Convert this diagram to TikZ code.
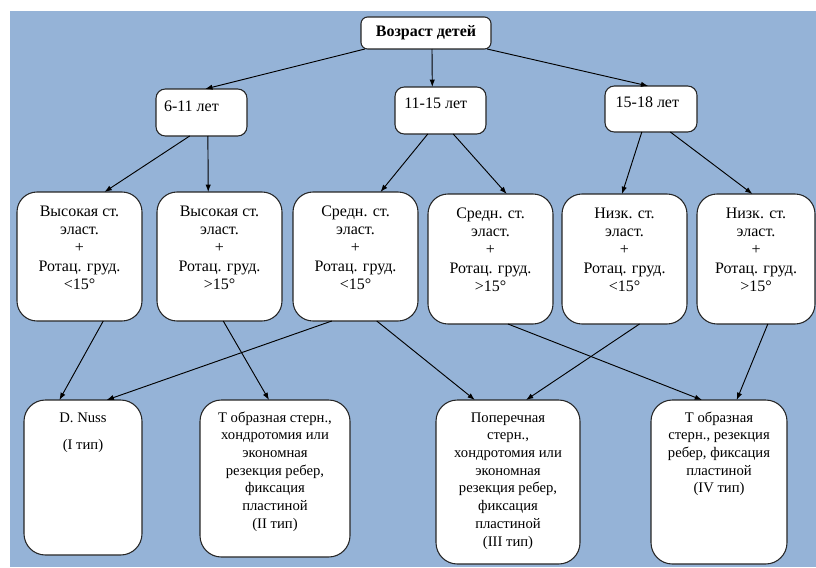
\documentclass[tikz,border=0pt]{standalone}
\usepackage{fontspec}
\setmainfont{Liberation Serif}
\usetikzlibrary{arrows.meta,calc}
\definecolor{bgblue}{RGB}{149,179,215}
\newcommand\bx[8]{\node[#1] (#2) at ({(#3+#5)/2},{(#4+#6)/2}) {\parbox[c][\dimexpr(#6pt-#4pt)*3/4\relax][t]{\dimexpr(#5pt-#3pt)*3/4\relax}{\centering\rule{0pt}{#7}#8\par}};}
\tikzset{
  box/.style={draw=black!85, fill=white, line width=0.8pt, inner sep=0pt, outer sep=0pt},
  r1/.style={box, rounded corners=5pt, font=\bfseries\fontsize{12}{14}\selectfont},
  r2/.style={box, rounded corners=7pt, font=\fontsize{12}{14}\selectfont},
  r3/.style={box, rounded corners=15pt, font=\fontsize{12}{13.8}\selectfont},
  r4/.style={box, rounded corners=16pt, font=\fontsize{11}{13.3}\selectfont},
  conn/.style={-{Latex[length=5.5pt,width=4pt]}, line width=0.7pt, black}
}
\begin{document}
\begin{tikzpicture}[x=0.75pt,y=-0.75pt]
\useasboundingbox (0,0) rectangle (816,567);
\fill[bgblue] (10,11) rectangle (816,567);
% level 1
\bx{r1}{top}{361}{17}{491}{49}{14.25pt}{Возраст детей}
% level 2
\bx{r2}{g1}{156}{89}{247}{136}{17pt}{\raggedright\hspace*{6pt}6-11 лет}
\bx{r2}{g2}{395}{87}{486}{134}{16.5pt}{\raggedright\hspace*{7pt}11-15 лет}
\bx{r2}{g3}{605}{86}{697}{132}{16pt}{\raggedright\hspace*{8pt}15-18 лет}
% level 3
\bx{r3}{b1}{17}{192}{142}{321}{18pt}{Высокая ст.\\ эласт.\\ +\\ Ротац. груд.\\ <15°}
\bx{r3}{b2}{157}{192}{282}{321}{18pt}{Высокая ст.\\ эласт.\\ +\\ Ротац. груд.\\ >15°}
\bx{r3}{b3}{293}{192}{418}{321}{18pt}{Средн. ст.\\ эласт.\\ +\\ Ротац. груд.\\ <15°}
\bx{r3}{b4}{428}{194}{553}{324}{18pt}{Средн. ст.\\ эласт.\\ +\\ Ротац. груд.\\ >15°}
\bx{r3}{b5}{562}{194}{687}{324}{18pt}{Низк. ст.\\ эласт.\\ +\\ Ротац. груд.\\ <15°}
\bx{r3}{b6}{697}{194}{815}{324}{18pt}{Низк. ст.\\ эласт.\\ +\\ Ротац. груд.\\ >15°}
% level 4
\bx{r4}{t1}{24}{400}{142}{555}{16.5pt}{D. Nuss\\[7pt] (I тип)}
\bx{r4}{t2}{200}{400}{350}{557}{16.5pt}{Т образная стерн.,\\ хондротомия или\\ экономная\\ резекция ребер,\\ фиксация\\ пластиной\\ (II тип)}
\bx{r4}{t3}{436}{400}{580}{564}{16.5pt}{Поперечная\\ стерн.,\\ хондротомия или\\ экономная\\ резекция ребер,\\ фиксация\\ пластиной\\ (III тип)}
\bx{r4}{t4}{651}{400}{787}{564}{16.5pt}{Т образная\\ стерн., резекция\\ ребер, фиксация\\ пластиной\\ (IV тип)}
% connectors
\foreach \a/\fa/\b/\fb in {top/0.03/g1/0.54, top/0.546/g2/0.41, top/0.97/g3/0.47,
  g1/0.37/b1/0.70, g1/0.57/b2/0.41, g2/0.36/b3/0.70, g2/0.64/b4/0.63,
  g3/0.40/b5/0.48, g3/0.71/b6/0.47,
  b1/0.69/t1/0.30, b3/0.31/t1/0.70, b2/0.53/t2/0.46, b3/0.67/t3/0.27,
  b4/0.64/t4/0.375, b5/0.62/t3/0.625, b6/0.60/t4/0.63}
  \draw[conn] ($(\a.south west)!\fa!(\a.south east)$) -- ($(\b.north west)!\fb!(\b.north east)$);
\end{tikzpicture}
\end{document}
